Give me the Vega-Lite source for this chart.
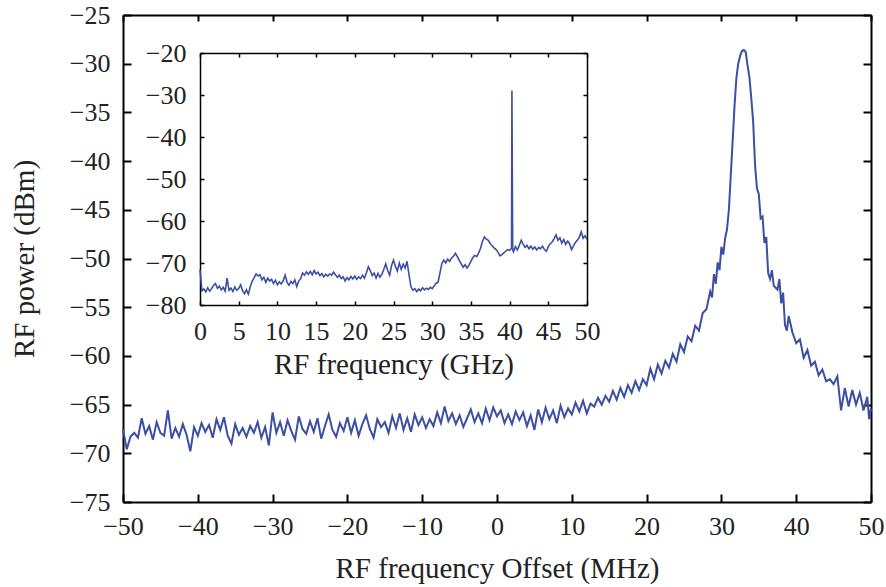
{
  "$schema": "https://vega.github.io/schema/vega-lite/v6.json",
  "width": 748,
  "height": 487,
  "autosize": {"type": "none"},
  "padding": {"left": 123, "top": 15, "right": 15, "bottom": 85},
  "background": "white",
  "view": {"stroke": null},
  "config": {
    "font": "Liberation Serif",
    "axis": {"grid": false, "labelFont": "Liberation Serif", "titleFont": "Liberation Serif", "labelColor": "#222222", "titleColor": "#222222", "titleFontWeight": "normal", "domainColor": "#000000", "tickColor": "#000000", "labelOverlap": false, "labelFlush": false}
  },
  "datasets": {
    "main": [
      {"f": -50.0, "p": -67.5}, {"f": -49.5, "p": -69.6}, {"f": -49.0, "p": -68.3}, {"f": -48.5, "p": -67.9}, {"f": -48.0, "p": -68.4},
      {"f": -47.5, "p": -66.4}, {"f": -47.0, "p": -68.0}, {"f": -46.5, "p": -67.2}, {"f": -46.0, "p": -68.6}, {"f": -45.5, "p": -66.8},
      {"f": -45.0, "p": -67.9}, {"f": -44.5, "p": -68.2}, {"f": -44.0, "p": -65.6}, {"f": -43.5, "p": -68.5}, {"f": -43.0, "p": -67.4},
      {"f": -42.5, "p": -68.3}, {"f": -42.0, "p": -67.0}, {"f": -41.5, "p": -68.1}, {"f": -41.0, "p": -69.8}, {"f": -40.5, "p": -67.3},
      {"f": -40.0, "p": -68.2}, {"f": -39.5, "p": -66.9}, {"f": -39.0, "p": -67.8}, {"f": -38.5, "p": -67.1}, {"f": -38.0, "p": -68.4},
      {"f": -37.5, "p": -66.5}, {"f": -37.0, "p": -67.6}, {"f": -36.5, "p": -66.3}, {"f": -36.0, "p": -68.2}, {"f": -35.5, "p": -69.0},
      {"f": -35.0, "p": -67.0}, {"f": -34.5, "p": -68.1}, {"f": -34.0, "p": -67.4}, {"f": -33.5, "p": -68.3}, {"f": -33.0, "p": -67.2},
      {"f": -32.5, "p": -67.9}, {"f": -32.0, "p": -66.8}, {"f": -31.5, "p": -68.4}, {"f": -31.0, "p": -67.3}, {"f": -30.5, "p": -69.2},
      {"f": -30.0, "p": -65.8}, {"f": -29.5, "p": -67.9}, {"f": -29.0, "p": -66.8}, {"f": -28.5, "p": -68.2}, {"f": -28.0, "p": -66.6},
      {"f": -27.5, "p": -67.7}, {"f": -27.0, "p": -68.6}, {"f": -26.5, "p": -66.2}, {"f": -26.0, "p": -67.5}, {"f": -25.5, "p": -68.0},
      {"f": -25.0, "p": -66.7}, {"f": -24.5, "p": -67.8}, {"f": -24.0, "p": -66.4}, {"f": -23.5, "p": -68.5}, {"f": -23.0, "p": -67.2},
      {"f": -22.5, "p": -66.0}, {"f": -22.0, "p": -67.6}, {"f": -21.5, "p": -68.3}, {"f": -21.0, "p": -66.9}, {"f": -20.5, "p": -67.7},
      {"f": -20.0, "p": -66.3}, {"f": -19.5, "p": -67.9}, {"f": -19.0, "p": -66.6}, {"f": -18.5, "p": -68.2}, {"f": -18.0, "p": -67.0},
      {"f": -17.5, "p": -66.1}, {"f": -17.0, "p": -67.5}, {"f": -16.5, "p": -68.4}, {"f": -16.0, "p": -66.5}, {"f": -15.5, "p": -67.3},
      {"f": -15.0, "p": -66.8}, {"f": -14.5, "p": -67.9}, {"f": -14.0, "p": -66.2}, {"f": -13.5, "p": -67.4}, {"f": -13.0, "p": -65.9},
      {"f": -12.5, "p": -67.6}, {"f": -12.0, "p": -66.4}, {"f": -11.5, "p": -67.8}, {"f": -11.0, "p": -66.0}, {"f": -10.5, "p": -67.1},
      {"f": -10.0, "p": -66.3}, {"f": -9.5, "p": -67.4}, {"f": -9.0, "p": -66.5}, {"f": -8.5, "p": -67.2}, {"f": -8.0, "p": -65.8},
      {"f": -7.5, "p": -66.9}, {"f": -7.0, "p": -65.2}, {"f": -6.5, "p": -66.7}, {"f": -6.0, "p": -65.9}, {"f": -5.5, "p": -67.0},
      {"f": -5.0, "p": -66.1}, {"f": -4.5, "p": -67.3}, {"f": -4.0, "p": -66.4}, {"f": -3.5, "p": -65.5}, {"f": -3.0, "p": -66.8},
      {"f": -2.5, "p": -65.9}, {"f": -2.0, "p": -66.9}, {"f": -1.5, "p": -65.4}, {"f": -1.0, "p": -66.6}, {"f": -0.5, "p": -65.3},
      {"f": 0.0, "p": -66.2}, {"f": 0.5, "p": -65.6}, {"f": 1.0, "p": -66.9}, {"f": 1.5, "p": -66.0}, {"f": 2.0, "p": -67.0},
      {"f": 2.5, "p": -65.7}, {"f": 3.0, "p": -66.6}, {"f": 3.5, "p": -65.8}, {"f": 4.0, "p": -67.2}, {"f": 4.5, "p": -66.1},
      {"f": 5.0, "p": -67.6}, {"f": 5.5, "p": -65.5}, {"f": 6.0, "p": -66.8}, {"f": 6.5, "p": -65.3}, {"f": 7.0, "p": -66.5},
      {"f": 7.5, "p": -65.6}, {"f": 8.0, "p": -66.9}, {"f": 8.5, "p": -65.1}, {"f": 9.0, "p": -66.3}, {"f": 9.5, "p": -65.4},
      {"f": 10.0, "p": -66.0}, {"f": 10.5, "p": -64.8}, {"f": 11.0, "p": -65.7}, {"f": 11.5, "p": -64.6}, {"f": 12.0, "p": -65.9},
      {"f": 12.5, "p": -64.9}, {"f": 13.0, "p": -65.2}, {"f": 13.5, "p": -64.3}, {"f": 14.0, "p": -65.0}, {"f": 14.5, "p": -64.1},
      {"f": 15.0, "p": -64.7}, {"f": 15.5, "p": -63.6}, {"f": 16.0, "p": -64.5}, {"f": 16.5, "p": -63.3}, {"f": 17.0, "p": -64.2},
      {"f": 17.5, "p": -63.0}, {"f": 18.0, "p": -63.8}, {"f": 18.5, "p": -62.6}, {"f": 19.0, "p": -63.5}, {"f": 19.5, "p": -62.4},
      {"f": 20.0, "p": -63.0}, {"f": 20.5, "p": -61.3}, {"f": 21.0, "p": -62.4}, {"f": 21.5, "p": -60.9}, {"f": 22.0, "p": -61.8},
      {"f": 22.5, "p": -60.5}, {"f": 23.0, "p": -61.2}, {"f": 23.5, "p": -59.8}, {"f": 24.0, "p": -60.6}, {"f": 24.5, "p": -58.8},
      {"f": 25.0, "p": -59.6}, {"f": 25.5, "p": -58.0}, {"f": 26.0, "p": -58.5}, {"f": 26.5, "p": -56.9}, {"f": 27.0, "p": -57.4},
      {"f": 27.5, "p": -55.6}, {"f": 28.0, "p": -55.2}, {"f": 28.5, "p": -53.4}, {"f": 28.75, "p": -54.0}, {"f": 29.0, "p": -51.6},
      {"f": 29.25, "p": -52.6}, {"f": 29.5, "p": -50.4}, {"f": 29.75, "p": -51.2}, {"f": 30.0, "p": -48.8}, {"f": 30.25, "p": -49.6},
      {"f": 30.5, "p": -47.9}, {"f": 30.75, "p": -47.0}, {"f": 31.0, "p": -45.0}, {"f": 31.25, "p": -41.5}, {"f": 31.5, "p": -38.0},
      {"f": 31.75, "p": -34.4}, {"f": 32.0, "p": -31.5}, {"f": 32.25, "p": -30.0}, {"f": 32.5, "p": -29.2}, {"f": 32.75, "p": -28.7},
      {"f": 33.0, "p": -28.6}, {"f": 33.25, "p": -28.8}, {"f": 33.5, "p": -30.2}, {"f": 33.75, "p": -31.4}, {"f": 34.0, "p": -33.6},
      {"f": 34.25, "p": -36.0}, {"f": 34.5, "p": -40.4}, {"f": 34.75, "p": -42.8}, {"f": 35.0, "p": -43.4}, {"f": 35.25, "p": -45.9},
      {"f": 35.5, "p": -45.7}, {"f": 35.75, "p": -48.4}, {"f": 36.0, "p": -47.8}, {"f": 36.25, "p": -51.5}, {"f": 36.5, "p": -52.1},
      {"f": 36.75, "p": -51.2}, {"f": 37.0, "p": -52.8}, {"f": 37.5, "p": -53.2}, {"f": 37.75, "p": -52.1}, {"f": 38.0, "p": -54.6},
      {"f": 38.25, "p": -53.5}, {"f": 38.5, "p": -56.8}, {"f": 38.75, "p": -57.4}, {"f": 39.0, "p": -55.9}, {"f": 39.5, "p": -57.6},
      {"f": 40.0, "p": -58.7}, {"f": 40.5, "p": -58.3}, {"f": 41.0, "p": -60.2}, {"f": 41.5, "p": -59.4}, {"f": 42.0, "p": -61.0},
      {"f": 42.5, "p": -60.6}, {"f": 43.0, "p": -62.0}, {"f": 43.5, "p": -61.4}, {"f": 44.0, "p": -62.6}, {"f": 44.5, "p": -62.4},
      {"f": 45.0, "p": -62.9}, {"f": 45.5, "p": -62.1}, {"f": 46.0, "p": -65.6}, {"f": 46.5, "p": -63.3}, {"f": 47.0, "p": -65.2},
      {"f": 47.5, "p": -63.5}, {"f": 48.0, "p": -65.0}, {"f": 48.5, "p": -63.8}, {"f": 49.0, "p": -65.6}, {"f": 49.5, "p": -64.2},
      {"f": 49.75, "p": -66.5}, {"f": 50.0, "p": -65.4}
    ],
    "inset": [
      {"g": 0.0, "p": -71.6}, {"g": 0.25, "p": -76.6}, {"g": 0.5, "p": -76.2}, {"g": 0.75, "p": -76.9}, {"g": 1.0, "p": -75.9},
      {"g": 1.25, "p": -76.7}, {"g": 1.5, "p": -76.1}, {"g": 1.75, "p": -75.3}, {"g": 2.0, "p": -74.9}, {"g": 2.25, "p": -76.0},
      {"g": 2.5, "p": -75.5}, {"g": 2.75, "p": -76.4}, {"g": 3.0, "p": -75.8}, {"g": 3.25, "p": -76.7}, {"g": 3.5, "p": -73.6},
      {"g": 3.75, "p": -76.5}, {"g": 4.0, "p": -76.0}, {"g": 4.25, "p": -76.8}, {"g": 4.5, "p": -75.7}, {"g": 4.75, "p": -76.5},
      {"g": 5.0, "p": -76.1}, {"g": 5.25, "p": -75.2}, {"g": 5.5, "p": -76.6}, {"g": 5.75, "p": -77.3}, {"g": 6.0, "p": -76.4},
      {"g": 6.25, "p": -77.4}, {"g": 6.5, "p": -75.6}, {"g": 6.75, "p": -74.3}, {"g": 7.0, "p": -73.5}, {"g": 7.25, "p": -72.6},
      {"g": 7.5, "p": -73.1}, {"g": 7.75, "p": -72.8}, {"g": 8.0, "p": -74.0}, {"g": 8.25, "p": -73.4}, {"g": 8.5, "p": -74.6},
      {"g": 8.75, "p": -73.6}, {"g": 9.0, "p": -74.3}, {"g": 9.25, "p": -73.9}, {"g": 9.5, "p": -74.9}, {"g": 9.75, "p": -74.1},
      {"g": 10.0, "p": -75.2}, {"g": 10.25, "p": -74.5}, {"g": 10.5, "p": -75.0}, {"g": 10.75, "p": -74.2}, {"g": 11.0, "p": -72.9},
      {"g": 11.25, "p": -74.6}, {"g": 11.5, "p": -75.3}, {"g": 11.75, "p": -74.4}, {"g": 12.0, "p": -74.9}, {"g": 12.25, "p": -74.0},
      {"g": 12.5, "p": -75.6}, {"g": 12.75, "p": -74.3}, {"g": 13.0, "p": -73.8}, {"g": 13.25, "p": -72.4}, {"g": 13.5, "p": -72.9},
      {"g": 13.75, "p": -72.1}, {"g": 14.0, "p": -72.7}, {"g": 14.25, "p": -72.0}, {"g": 14.5, "p": -72.8}, {"g": 14.75, "p": -71.8},
      {"g": 15.0, "p": -72.6}, {"g": 15.25, "p": -72.2}, {"g": 15.5, "p": -73.0}, {"g": 15.75, "p": -72.5}, {"g": 16.0, "p": -73.3},
      {"g": 16.25, "p": -72.7}, {"g": 16.5, "p": -73.1}, {"g": 16.75, "p": -72.6}, {"g": 17.0, "p": -72.9}, {"g": 17.25, "p": -72.2},
      {"g": 17.5, "p": -72.8}, {"g": 17.75, "p": -73.4}, {"g": 18.0, "p": -72.9}, {"g": 18.25, "p": -73.7}, {"g": 18.5, "p": -73.3},
      {"g": 18.75, "p": -74.3}, {"g": 19.0, "p": -73.5}, {"g": 19.25, "p": -74.0}, {"g": 19.5, "p": -73.2}, {"g": 19.75, "p": -73.8},
      {"g": 20.0, "p": -73.1}, {"g": 20.25, "p": -73.9}, {"g": 20.5, "p": -73.3}, {"g": 20.75, "p": -73.7}, {"g": 21.0, "p": -72.9},
      {"g": 21.25, "p": -73.6}, {"g": 21.5, "p": -72.3}, {"g": 21.75, "p": -70.9}, {"g": 22.0, "p": -71.8}, {"g": 22.25, "p": -73.0},
      {"g": 22.5, "p": -72.4}, {"g": 22.75, "p": -73.6}, {"g": 23.0, "p": -72.5}, {"g": 23.25, "p": -73.4}, {"g": 23.5, "p": -72.7},
      {"g": 23.75, "p": -71.5}, {"g": 24.0, "p": -70.2}, {"g": 24.25, "p": -71.8}, {"g": 24.5, "p": -72.9}, {"g": 24.75, "p": -70.6},
      {"g": 25.0, "p": -69.3}, {"g": 25.25, "p": -70.8}, {"g": 25.5, "p": -71.9}, {"g": 25.75, "p": -70.0}, {"g": 26.0, "p": -71.5},
      {"g": 26.25, "p": -70.3}, {"g": 26.5, "p": -71.2}, {"g": 26.75, "p": -69.6}, {"g": 27.0, "p": -72.8}, {"g": 27.25, "p": -75.6},
      {"g": 27.5, "p": -76.5}, {"g": 27.75, "p": -76.1}, {"g": 28.0, "p": -76.8}, {"g": 28.25, "p": -76.2}, {"g": 28.5, "p": -76.6},
      {"g": 28.75, "p": -75.9}, {"g": 29.0, "p": -76.4}, {"g": 29.25, "p": -76.0}, {"g": 29.5, "p": -76.3}, {"g": 29.75, "p": -75.8},
      {"g": 30.0, "p": -76.1}, {"g": 30.25, "p": -75.5}, {"g": 30.5, "p": -74.8}, {"g": 30.75, "p": -74.6}, {"g": 31.0, "p": -72.4},
      {"g": 31.25, "p": -70.1}, {"g": 31.5, "p": -69.3}, {"g": 31.75, "p": -70.0}, {"g": 32.0, "p": -69.1}, {"g": 32.25, "p": -69.6},
      {"g": 32.5, "p": -68.8}, {"g": 32.75, "p": -68.4}, {"g": 33.0, "p": -67.7}, {"g": 33.25, "p": -68.5}, {"g": 33.5, "p": -69.4},
      {"g": 33.75, "p": -70.2}, {"g": 34.0, "p": -71.0}, {"g": 34.25, "p": -70.4}, {"g": 34.5, "p": -71.2}, {"g": 34.75, "p": -70.5},
      {"g": 35.0, "p": -69.6}, {"g": 35.25, "p": -68.7}, {"g": 35.5, "p": -68.2}, {"g": 35.75, "p": -68.5}, {"g": 36.0, "p": -67.6},
      {"g": 36.25, "p": -66.5}, {"g": 36.5, "p": -64.8}, {"g": 36.75, "p": -63.8}, {"g": 37.0, "p": -64.3}, {"g": 37.25, "p": -64.6},
      {"g": 37.5, "p": -65.4}, {"g": 37.75, "p": -65.9}, {"g": 38.0, "p": -66.4}, {"g": 38.25, "p": -66.8}, {"g": 38.5, "p": -67.4},
      {"g": 38.75, "p": -68.3}, {"g": 39.0, "p": -68.0}, {"g": 39.25, "p": -67.6}, {"g": 39.5, "p": -67.2}, {"g": 39.75, "p": -66.8},
      {"g": 40.0, "p": -67.0}, {"g": 40.25, "p": -66.5}, {"g": 40.3, "p": -28.9}, {"g": 40.4, "p": -66.8}, {"g": 40.5, "p": -67.3},
      {"g": 40.75, "p": -66.1}, {"g": 41.0, "p": -66.9}, {"g": 41.25, "p": -65.8}, {"g": 41.5, "p": -64.6}, {"g": 41.75, "p": -65.5},
      {"g": 42.0, "p": -66.3}, {"g": 42.25, "p": -65.8}, {"g": 42.5, "p": -66.6}, {"g": 42.75, "p": -66.0}, {"g": 43.0, "p": -66.7},
      {"g": 43.25, "p": -66.2}, {"g": 43.5, "p": -66.9}, {"g": 43.75, "p": -66.3}, {"g": 44.0, "p": -66.6}, {"g": 44.25, "p": -66.0},
      {"g": 44.5, "p": -66.8}, {"g": 44.75, "p": -67.2}, {"g": 45.0, "p": -66.1}, {"g": 45.25, "p": -65.4}, {"g": 45.5, "p": -65.0},
      {"g": 45.75, "p": -64.2}, {"g": 46.0, "p": -63.3}, {"g": 46.25, "p": -64.6}, {"g": 46.5, "p": -64.0}, {"g": 46.75, "p": -65.3},
      {"g": 47.0, "p": -64.4}, {"g": 47.25, "p": -65.6}, {"g": 47.5, "p": -64.8}, {"g": 47.75, "p": -65.4}, {"g": 48.0, "p": -66.8},
      {"g": 48.25, "p": -65.9}, {"g": 48.5, "p": -65.1}, {"g": 48.75, "p": -64.6}, {"g": 49.0, "p": -63.9}, {"g": 49.25, "p": -62.6},
      {"g": 49.5, "p": -64.1}, {"g": 49.75, "p": -63.5}, {"g": 50.0, "p": -64.4}
    ]
  },
  "layer": [
    {
      "data": {"name": "main"},
      "mark": {"type": "line", "color": "#3b4fa3", "strokeWidth": 2},
      "encoding": {
        "x": {"field": "f", "type": "quantitative", "scale": {"domain": [-50, 50], "nice": false, "zero": false},
          "axis": {"orient": "bottom", "values": [-50, -40, -30, -20, -10, 0, 10, 20, 30, 40, 50], "tickSize": -8, "tickWidth": 2, "domainWidth": 2, "labelFontSize": 26, "labelPadding": 19, "title": "RF frequency Offset (MHz)", "titleFontSize": 29, "titlePadding": 15}},
        "y": {"field": "p", "type": "quantitative", "scale": {"domain": [-75, -25], "nice": false, "zero": false},
          "axis": {"orient": "left", "values": [-75, -70, -65, -60, -55, -50, -45, -40, -35, -30, -25], "tickSize": -8, "tickWidth": 2, "domainWidth": 2, "labelFontSize": 26, "labelPadding": 21, "title": "RF power (dBm)", "titleFontSize": 29, "titlePadding": 30}}
      }
    },
    {
      "data": {"name": "main"},
      "mark": {"type": "line", "opacity": 0},
      "encoding": {
        "x": {"field": "f", "type": "quantitative", "scale": {"domain": [-50, 50], "nice": false, "zero": false},
          "axis": {"orient": "top", "values": [-50, -40, -30, -20, -10, 0, 10, 20, 30, 40, 50], "tickSize": -6, "tickWidth": 2, "domainWidth": 2, "labels": false, "title": null}},
        "y": {"field": "p", "type": "quantitative", "scale": {"domain": [-75, -25], "nice": false, "zero": false},
          "axis": {"orient": "right", "values": [-75, -70, -65, -60, -55, -50, -45, -40, -35, -30, -25], "tickSize": -8, "tickWidth": 2, "domainWidth": 2, "labels": false, "title": null}}
      }
    },
    {
      "data": {"name": "inset"},
      "mark": {"type": "line", "color": "#3b4fa3", "strokeWidth": 1.6},
      "encoding": {
        "x": {"field": "g", "type": "quantitative", "scale": {"domain": [0, 50], "nice": false, "zero": false, "range": [77, 464]},
          "axis": {"orient": "bottom", "offset": -197, "values": [0, 5, 10, 15, 20, 25, 30, 35, 40, 45, 50], "tickSize": -4, "tickWidth": 1.5, "domainWidth": 1.5, "labelFontSize": 26, "labelPadding": 17, "title": "RF frequency (GHz)", "titleFontSize": 29, "titlePadding": 6}},
        "y": {"field": "p", "type": "quantitative", "scale": {"domain": [-80, -20], "nice": false, "zero": false, "range": [290, 38]},
          "axis": {"orient": "left", "offset": -77, "values": [-80, -70, -60, -50, -40, -30, -20], "tickSize": -4, "tickWidth": 1.5, "domainWidth": 1.5, "labelFontSize": 26, "labelPadding": 18, "title": null}}
      }
    },
    {
      "data": {"name": "inset"},
      "mark": {"type": "line", "opacity": 0},
      "encoding": {
        "x": {"field": "g", "type": "quantitative", "scale": {"domain": [0, 50], "nice": false, "zero": false, "range": [77, 464]},
          "axis": {"orient": "top", "offset": -38, "values": [0, 5, 10, 15, 20, 25, 30, 35, 40, 45, 50], "tickSize": -4, "tickWidth": 1.5, "domainWidth": 1.5, "labels": false, "title": null}},
        "y": {"field": "p", "type": "quantitative", "scale": {"domain": [-80, -20], "nice": false, "zero": false, "range": [290, 38]},
          "axis": {"orient": "right", "offset": -284, "values": [-80, -70, -60, -50, -40, -30, -20], "tickSize": -4, "tickWidth": 1.5, "domainWidth": 1.5, "labels": false, "title": null}}
      }
    }
  ],
  "resolve": {"scale": {"x": "independent", "y": "independent"}, "axis": {"x": "independent", "y": "independent"}}
}
